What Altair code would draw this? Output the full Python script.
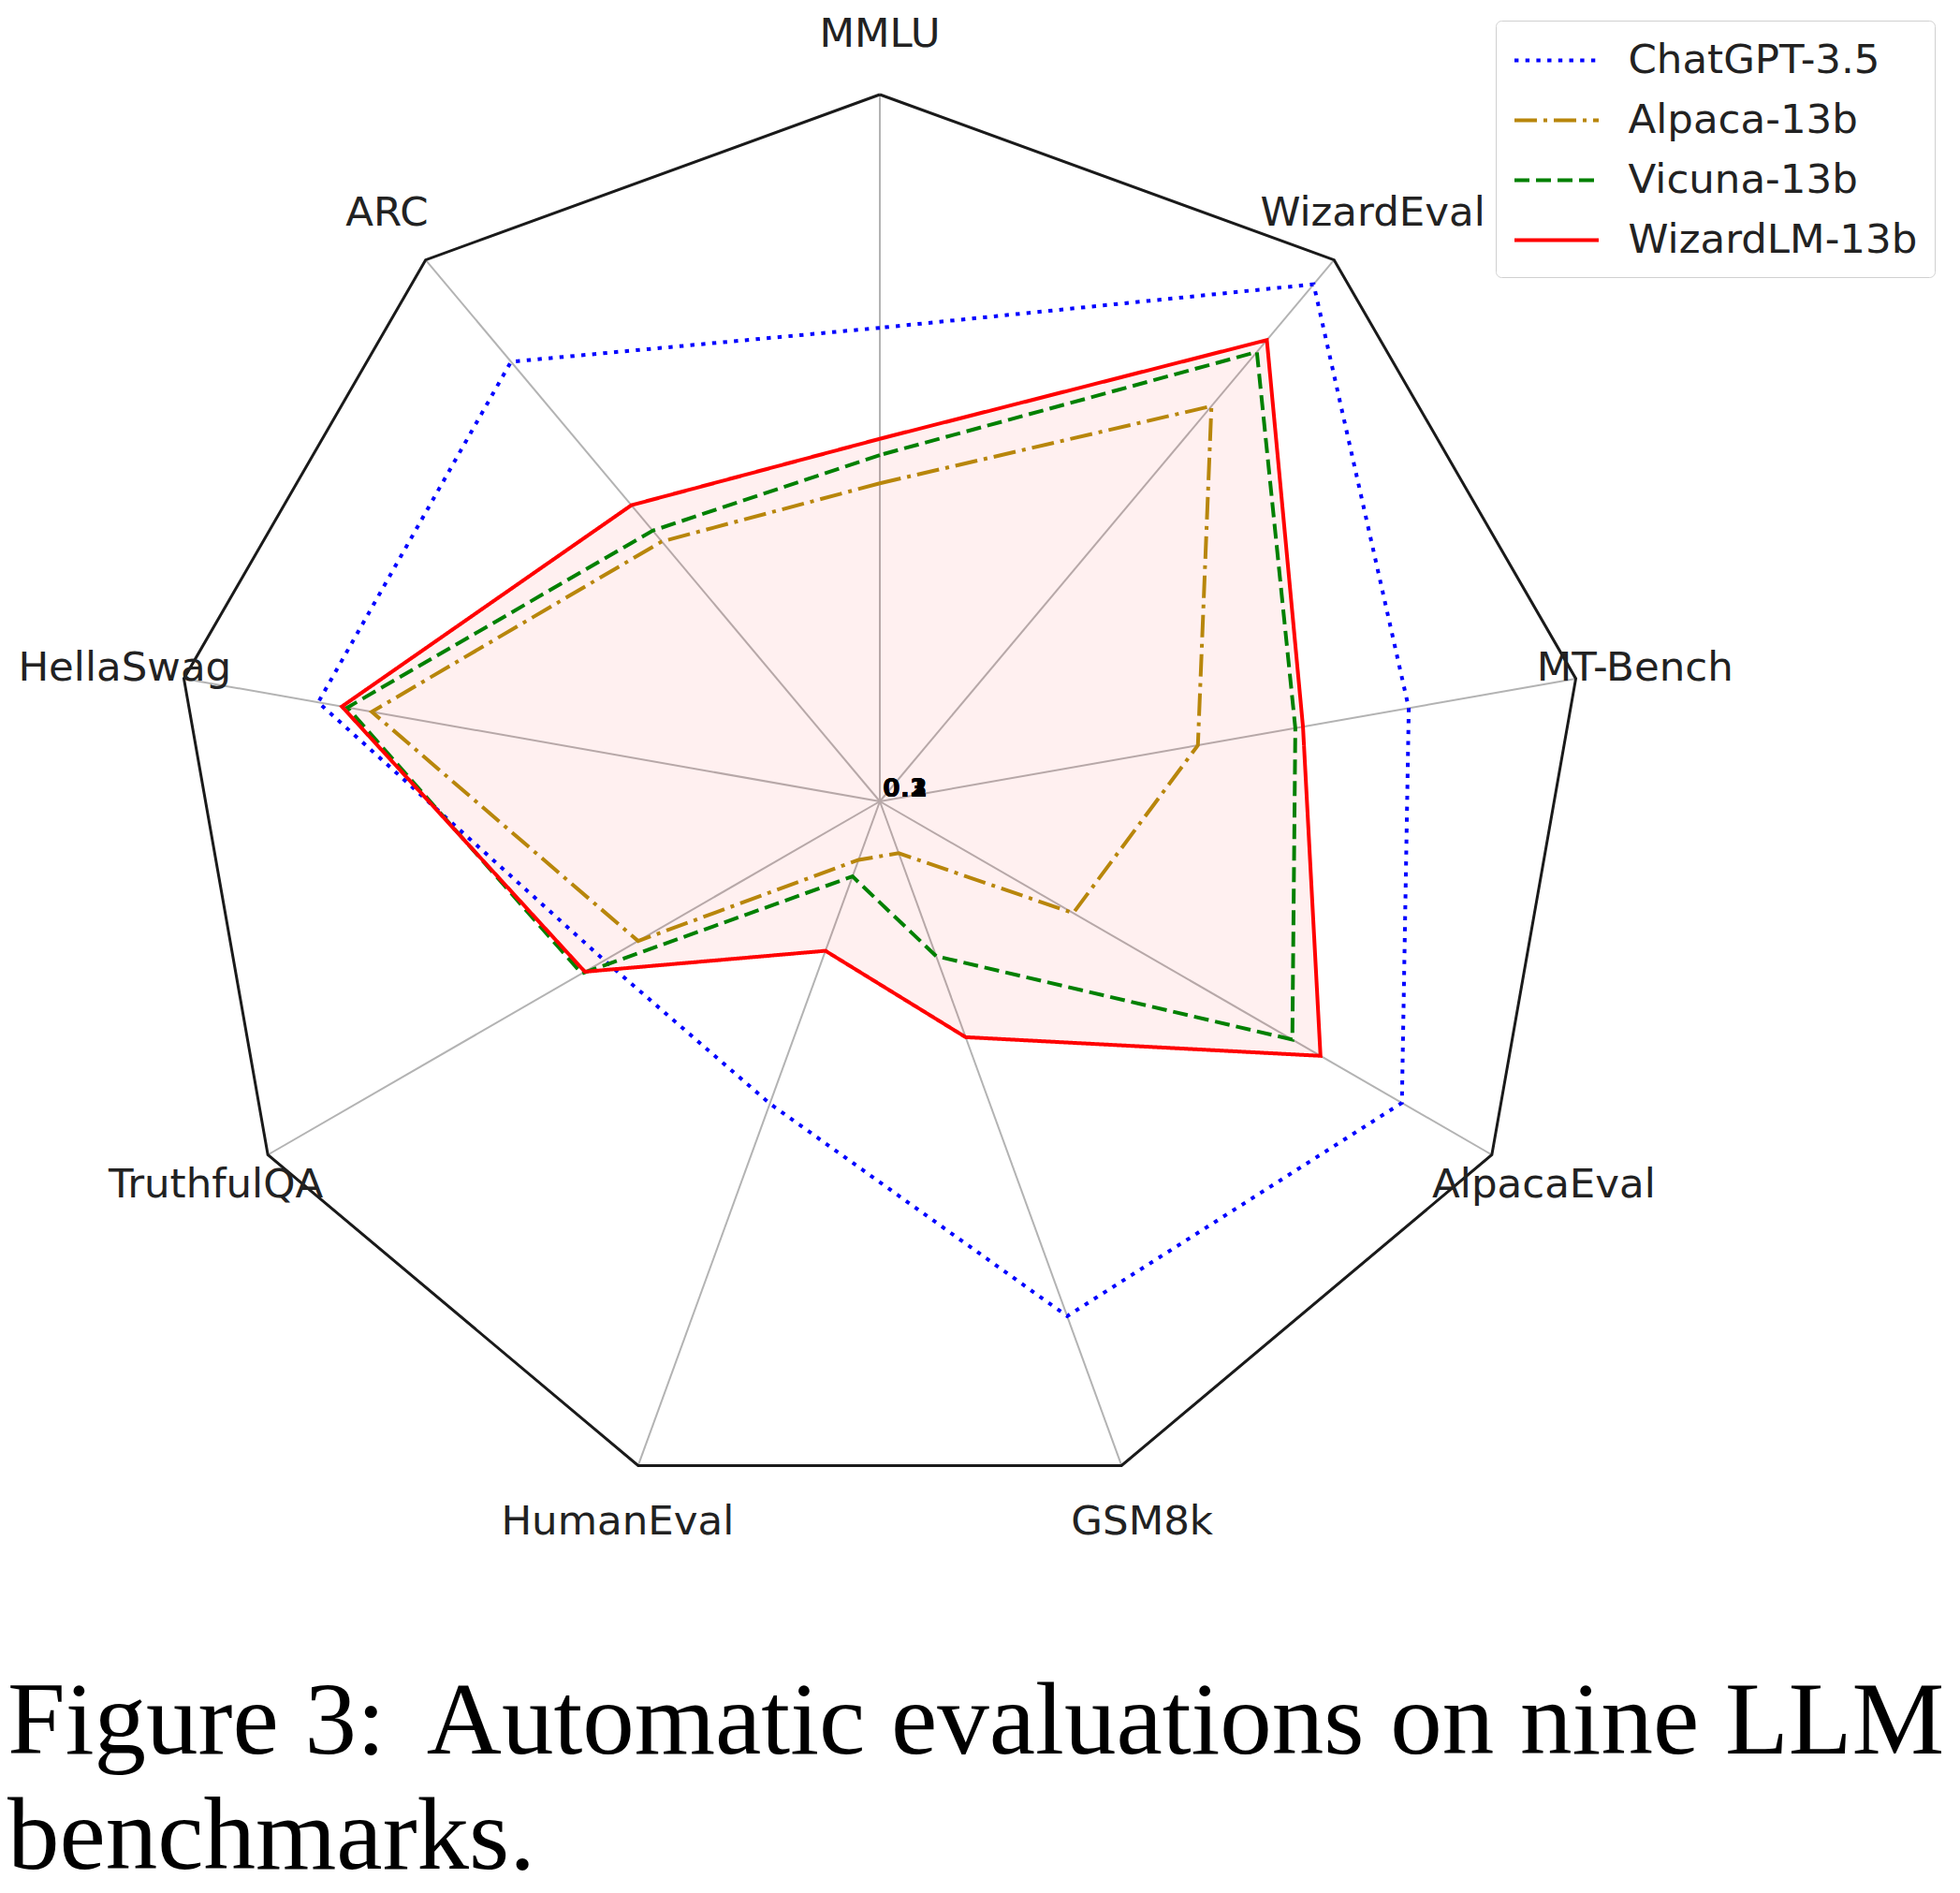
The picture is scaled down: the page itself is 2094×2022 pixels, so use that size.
import altair as alt
import pandas as pd

# ---- data ----
axes = ["MMLU", "ARC", "HellaSwag", "TruthfulQA", "HumanEval",
        "GSM8k", "AlpacaEval", "MT-Bench", "WizardEval"]
models = ["ChatGPT-3.5", "Alpaca-13b", "Vicuna-13b", "WizardLM-13b"]

chatgpt = [0.670, 0.812, 0.807, 0.450, 0.455, 0.775, 0.853, 0.760, 0.955]
alpaca = [0.450, 0.480, 0.730, 0.395, 0.088, 0.078, 0.316, 0.457, 0.730]
vicuna = [0.490, 0.500, 0.765, 0.487, 0.113, 0.233, 0.674, 0.597, 0.830]
wizardlm = [0.513, 0.547, 0.773, 0.482, 0.225, 0.355, 0.720, 0.608, 0.852]
series = [chatgpt, alpaca, vicuna, wizardlm]

tick_labels = ["0.1", "0.2", "0.3"]
caption = ["Figure 3:\u2009 Automatic evaluations on nine LLM", "benchmarks."]

# ---- styles ----
colors = ["blue", "darkgoldenrod", "green", "red"]
dashes = [[4.4, 7.3], [24, 7, 4, 7], [16, 7], [1, 0]]
FONT = "DejaVu Sans"

# ---- tables built from the lists ----
rows = []
for m, vals in zip(models, series):
    closed = vals + vals[:1]
    for i, v in enumerate(closed):
        rows.append({"model": m, "idx": i, "value": v})
df = pd.DataFrame(rows)

frame_df = pd.DataFrame({"idx": list(range(len(axes) + 1)), "value": [1.0] * (len(axes) + 1)})
spoke_df = pd.DataFrame({"idx": list(range(len(axes))), "value": [1.0] * len(axes)})
label_df = pd.DataFrame({"idx": list(range(len(axes))), "name": axes, "value": [1.085] * len(axes)})
tick_df = pd.DataFrame({"label": tick_labels, "value": [0.0] * len(tick_labels), "idx": [0] * len(tick_labels)})

N = len(axes)
theta = f"PI/2 + datum.idx * 2 * PI / {N}"
xcalc = f"datum.value * cos({theta})"
ycalc = f"datum.value * sin({theta})"

xs = alt.Scale(domain=[-1.23444, 1.51788], nice=False, zero=False)
ys = alt.Scale(domain=[-1.18411, 1.12318], nice=False, zero=False)
X = alt.X("x:Q", scale=xs, axis=None)
Y = alt.Y("y:Q", scale=ys, axis=None)


def polar(ch):
    return ch.transform_calculate(x=xcalc, y=ycalc)


spokes = polar(alt.Chart(spoke_df)).mark_rule(color="#b3b3b3", strokeWidth=2).encode(
    x=alt.X("x0:Q", scale=xs, axis=None), y=alt.Y("y0:Q", scale=ys, axis=None),
    x2="x:Q", y2="y:Q"
).transform_calculate(x0="0", y0="0")

frame = polar(alt.Chart(frame_df)).mark_line(color="#1a1a1a", strokeWidth=3).encode(
    x=X, y=Y, order="idx:Q"
)

fill = polar(alt.Chart(df)).transform_filter(
    alt.datum.model == models[3]
).mark_line(fill="red", fillOpacity=0.06, strokeOpacity=0).encode(
    x=X, y=Y, order="idx:Q"
)

lines = polar(alt.Chart(df)).mark_line(strokeWidth=4).encode(
    x=X, y=Y, order="idx:Q",
    color=alt.Color("model:N", scale=alt.Scale(domain=models, range=colors), title=None),
    strokeDash=alt.StrokeDash("model:N", scale=alt.Scale(domain=models, range=dashes), title=None),
)

labels = polar(alt.Chart(label_df)).mark_text(
    font=FONT, fontSize=43.5, color="#222222", align="center", baseline="middle"
).encode(x=X, y=Y, text="name:N")

ticks = polar(alt.Chart(tick_df)).mark_text(
    font=FONT, fontSize=27, fontWeight="bold", color="black", align="left",
    baseline="alphabetic", dx=3, dy=-5
).encode(x=X, y=Y, text="label:N")

chart = alt.layer(spokes, frame, fill, lines, labels, ticks).properties(
    width=2078, height=1742, padding=0,
    title=alt.TitleParams(
        text=caption, orient="bottom", anchor="start", font="Liberation Serif",
        fontSize=111, fontWeight="normal", color="black", lineHeight=123,
        baseline="alphabetic", offset=123
    )
).configure_view(stroke=None).configure_legend(
    orient="none", legendX=1590, legendY=14,
    symbolType="M-2,0H2", symbolSize=2025, symbolStrokeWidth=4, symbolOffset=22.5,
    labelFont=FONT, labelFontSize=43.5, labelColor="#222222", labelOffset=52, labelLimit=0,
    padding=18, rowPadding=18, strokeColor="#d0d0d0", fillColor="rgba(255,255,255,0.8)",
    cornerRadius=6
)

chart.save("out.html", embed_options={"renderer": "svg", "actions": False})
